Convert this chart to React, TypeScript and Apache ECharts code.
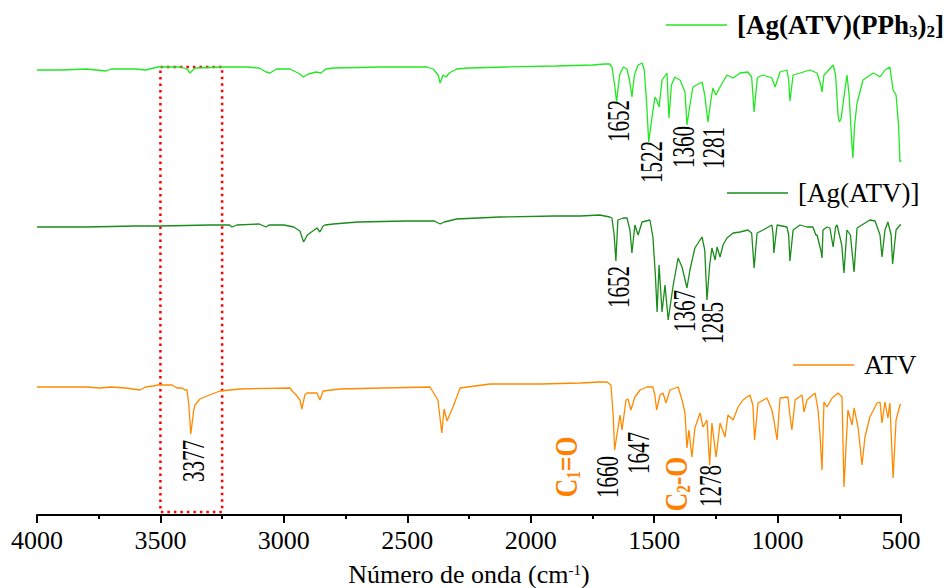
import React, { useEffect, useRef } from 'react';
import * as echarts from 'echarts';

// ---------- data (wavenumber cm-1, transmittance a.u.) ----------
const SERIES_NAMES = ['[Ag(ATV)(PPh3)2]', '[Ag(ATV)]', 'ATV'];

const agPPh3Spectrum: [number, number][] = [
  [4000, 445], [3900, 445], [3800, 446], [3720, 444], [3700, 446], [3600, 446], [3560, 445],
  [3510, 448], [3420, 448], [3392, 446], [3380, 442], [3360, 447], [3250, 448], [3150, 448],
  [3100, 447], [3072, 443], [3056, 442], [3030, 446], [2975, 446], [2935, 441], [2922, 438],
  [2900, 441], [2870, 443], [2850, 442], [2830, 446], [2800, 447], [2600, 448], [2420, 448],
  [2395, 446], [2375, 440], [2367, 432], [2355, 440], [2343, 438], [2330, 442], [2300, 446],
  [2250, 447], [2100, 448], [1900, 449], [1750, 450], [1700, 451], [1680, 451], [1671, 448],
  [1660, 430], [1652, 413], [1640, 440], [1625, 448], [1610, 446], [1600, 435], [1590, 418],
  [1580, 440], [1565, 450], [1549, 452], [1540, 445], [1530, 410], [1522, 373], [1510, 395],
  [1497, 418], [1490, 415], [1480, 408], [1468, 435], [1448, 442], [1440, 397], [1430, 430],
  [1416, 438], [1395, 435], [1375, 423], [1367, 390], [1355, 410], [1343, 428], [1306, 433],
  [1295, 420], [1282, 393], [1270, 415], [1262, 427], [1250, 420], [1233, 428], [1205, 440],
  [1180, 437], [1152, 442], [1120, 443], [1105, 438], [1095, 403], [1083, 435], [1079, 438],
  [1059, 440], [1023, 437], [1010, 428], [990, 443], [962, 445], [955, 435], [950, 414],
  [937, 440], [909, 442], [869, 445], [840, 442], [825, 430], [820, 423], [812, 440],
  [800, 443], [775, 450], [765, 440], [755, 400], [750, 393], [743, 396], [730, 420],
  [719, 440], [710, 420], [700, 375], [695, 357], [688, 390], [678, 412], [654, 435],
  [613, 442], [597, 440], [585, 438], [565, 445], [545, 448], [532, 425], [520, 420],
  [510, 390], [504, 353], [500, 355],
];

const agSpectrum: [number, number][] = [
  [4000, 288], [3800, 288], [3600, 289], [3500, 289], [3300, 290], [3220, 290], [3210, 288],
  [3190, 290], [3100, 291], [3072, 288], [3060, 290], [3000, 290], [2960, 288], [2935, 284],
  [2920, 273], [2905, 280], [2866, 287], [2854, 283], [2841, 289], [2833, 290], [2800, 291],
  [2700, 293], [2500, 294], [2390, 294], [2367, 291], [2350, 293], [2300, 296], [2124, 298],
  [1900, 299], [1800, 299], [1720, 300], [1680, 298], [1671, 297], [1662, 280], [1655, 254],
  [1647, 295], [1625, 297], [1610, 297], [1598, 285], [1590, 262], [1578, 290], [1565, 280],
  [1549, 293], [1517, 295], [1505, 278], [1495, 240], [1488, 203], [1480, 250], [1468, 203],
  [1456, 230], [1443, 195], [1424, 228], [1403, 257], [1387, 248], [1367, 227], [1355, 245],
  [1335, 267], [1306, 278], [1295, 265], [1286, 215], [1275, 250], [1266, 267], [1253, 255],
  [1245, 268], [1233, 258], [1221, 270], [1205, 277], [1180, 282], [1152, 283], [1120, 285],
  [1105, 282], [1095, 247], [1083, 282], [1059, 285], [1023, 290], [1018, 280], [1015, 262],
  [1002, 290], [962, 288], [955, 280], [950, 254], [937, 285], [909, 290], [881, 288],
  [857, 288], [845, 280], [840, 280], [825, 265], [820, 257], [816, 285], [800, 288],
  [788, 287], [775, 268], [765, 288], [759, 290], [740, 270], [731, 242], [719, 285],
  [705, 280], [690, 243], [678, 287], [626, 295], [605, 294], [585, 280], [577, 258],
  [565, 285], [553, 293], [540, 280], [534, 251], [520, 285], [504, 290], [500, 290],
];

const atvSpectrum: [number, number][] = [
  [4000, 128], [3900, 128], [3800, 128], [3745, 127], [3700, 128], [3640, 127], [3583, 125],
  [3560, 128], [3530, 129], [3510, 130], [3453, 130], [3433, 127], [3413, 127], [3400, 125],
  [3392, 125], [3385, 110], [3377, 81], [3365, 105], [3360, 110], [3340, 116], [3311, 119],
  [3259, 124], [3178, 126], [2975, 127], [2963, 123], [2950, 120], [2935, 115], [2927, 106],
  [2915, 120], [2906, 122], [2866, 122], [2854, 115], [2841, 124], [2773, 126], [2600, 127],
  [2408, 128], [2376, 115], [2360, 82], [2351, 106], [2339, 94], [2315, 108], [2286, 127],
  [2165, 131], [1962, 131], [1800, 132], [1719, 133], [1691, 133], [1675, 130], [1666, 100],
  [1660, 65], [1651, 80], [1638, 100], [1630, 85], [1614, 115], [1606, 116], [1594, 105],
  [1578, 118], [1557, 125], [1529, 128], [1505, 128], [1497, 120], [1490, 105], [1476, 120],
  [1464, 122], [1452, 112], [1436, 125], [1403, 128], [1387, 115], [1375, 102], [1367, 67],
  [1359, 85], [1347, 58], [1335, 87], [1314, 102], [1302, 88], [1286, 95], [1275, 50],
  [1266, 92], [1249, 58], [1233, 92], [1213, 78], [1201, 100], [1180, 95], [1160, 108],
  [1140, 115], [1112, 120], [1100, 110], [1093, 75], [1079, 112], [1043, 117], [1023, 105],
  [1015, 95], [1002, 75], [990, 117], [958, 118], [950, 100], [942, 85], [929, 115],
  [901, 120], [893, 103], [881, 115], [848, 122], [836, 105], [828, 80], [820, 45],
  [812, 113], [800, 108], [779, 117], [755, 122], [739, 118], [731, 28], [715, 105],
  [698, 90], [690, 107], [674, 88], [658, 50], [646, 78], [626, 98], [597, 112],
  [585, 113], [577, 92], [565, 113], [553, 97], [545, 112], [532, 37], [520, 95],
  [504, 110], [500, 111],
];

// dotted highlight box around the N-H region (wavenumber, a.u.)
const highlightBox: [number, number][] = [[3500, 448], [3250, 448], [3250, 3], [3500, 3], [3500, 448]];

// peak annotations: text, anchor wavenumber, anchor value, kind
const peakLabels: { text: string; w: number; v: number; kind: 'num' | 'group' }[] = [
  { text: '1652', w: 1643, v: 394, kind: 'num' },
  { text: '1522', w: 1509, v: 353, kind: 'num' },
  { text: '1360', w: 1383, v: 368, kind: 'num' },
  { text: '1281', w: 1258, v: 367, kind: 'num' },
  { text: '1652', w: 1643, v: 228, kind: 'num' },
  { text: '1367', w: 1379, v: 204, kind: 'num' },
  { text: '1285', w: 1262, v: 192, kind: 'num' },
  { text: '3377', w: 3368, v: 54, kind: 'num' },
  { text: '{m|C}{s|1}{m|=O}', w: 1857, v: 48, kind: 'group' },
  { text: '1660', w: 1691, v: 38, kind: 'num' },
  { text: '1647', w: 1565, v: 62, kind: 'num' },
  { text: '{m|C}{s|2}{m|-O}', w: 1411, v: 31, kind: 'group' },
  { text: '1278', w: 1270, v: 29, kind: 'num' },
];

const X_MIN = 500;
const X_MAX = 4000;
const X_STEP = 500;

// ---------- styles ----------
const SERIF = 'Liberation Serif';
const COLORS = ['#22e822', '#1a8c1a', '#ff8a00'];
const GROUP_COLOR = '#ff7f00';

export default function App() {
  const ref = useRef<HTMLDivElement>(null);

  useEffect(() => {
    if (!ref.current) return;
    const chart = echarts.init(ref.current, null, { renderer: 'svg' });

    const legendBase = {
      orient: 'horizontal',
      padding: 0,
      itemWidth: 61,
      itemHeight: 1.4,
      icon: 'rect',
      selectedMode: false,
      textStyle: {
        fontFamily: SERIF,
        fontSize: 27,
        color: '#000',
        lineHeight: 30,
        padding: [0, 0, 0, 5],
        rich: {
          s: { fontFamily: SERIF, fontSize: 17, lineHeight: 10, verticalAlign: 'bottom', color: '#000' },
        },
      },
    };

    const option: any = {
      animation: false,
      textStyle: { fontFamily: SERIF },
      grid: { left: 37, right: 51, top: 0, bottom: 73, containLabel: false, outerBoundsMode: 'none' },
      xAxis: {
        type: 'value',
        min: X_MIN,
        max: X_MAX,
        interval: X_STEP,
        inverse: true,
        name: 'Número de onda (cm{sup|-1})',
        nameLocation: 'middle',
        nameGap: 47,
        nameTextStyle: {
          fontFamily: SERIF,
          fontSize: 26,
          color: '#000',
          lineHeight: 24,
          rich: {
            sup: { fontFamily: SERIF, fontSize: 15, lineHeight: 16, verticalAlign: 'top', color: '#000' },
          },
        },
        axisLine: { show: true, lineStyle: { color: '#000', width: 2 } },
        axisTick: { show: true, length: 8, lineStyle: { color: '#000', width: 2 } },
        minorTick: { show: true, splitNumber: 2, length: 4, lineStyle: { color: '#000', width: 2 } },
        splitLine: { show: false },
        minorSplitLine: { show: false },
        axisLabel: {
          fontFamily: SERIF, fontSize: 26, color: '#000', margin: 12,
          formatter: (v: number) => String(v),
        },
      },
      yAxis: { type: 'value', min: 0, max: 515, show: false },
      legend: [
        {
          ...legendBase,
          data: [SERIES_NAMES[0]],
          left: 666,
          top: 10,
          formatter: () => '[Ag(ATV)(PPh{s|3}){s|2}]',
          textStyle: {
            ...legendBase.textStyle,
            fontWeight: 'bold',
            rich: {
              s: { fontFamily: SERIF, fontSize: 17, fontWeight: 'bold', lineHeight: 10, verticalAlign: 'bottom', color: '#000' },
            },
          },
        },
        { ...legendBase, data: [SERIES_NAMES[1]], left: 727, top: 178 },
        { ...legendBase, data: [SERIES_NAMES[2]], left: 793, top: 350 },
      ],
      series: [
        {
          name: SERIES_NAMES[0], type: 'line', data: agPPh3Spectrum, symbol: 'none', silent: true,
          lineStyle: { color: COLORS[0], width: 1.3 }, itemStyle: { color: COLORS[0] },
        },
        {
          name: SERIES_NAMES[1], type: 'line', data: agSpectrum, symbol: 'none', silent: true,
          lineStyle: { color: COLORS[1], width: 1.3 }, itemStyle: { color: COLORS[1] },
        },
        {
          name: SERIES_NAMES[2], type: 'line', data: atvSpectrum, symbol: 'none', silent: true,
          lineStyle: { color: COLORS[2], width: 1.3 }, itemStyle: { color: COLORS[2] },
        },
        {
          name: 'box', type: 'line', data: highlightBox, symbol: 'none', silent: true,
          lineStyle: { color: '#ff0000', width: 2.5, type: [2.5, 4] }, z: 1,
        },
      ],
    };

    chart.setOption(option);

    const graphics = peakLabels.map((p) => {
      const [x, y] = chart.convertToPixel({ gridIndex: 0 }, [p.w, p.v]) as number[];
      if (p.kind === 'num') {
        return {
          type: 'text',
          x, y,
          rotation: Math.PI / 2,
          scaleX: 0.68,
          silent: true,
          style: {
            text: p.text,
            fontFamily: SERIF,
            fontSize: 31,
            fill: '#000',
            align: 'center',
            verticalAlign: 'middle',
          },
        };
      }
      return {
        type: 'text',
        x, y,
        rotation: Math.PI / 2,
        scaleX: 0.8,
        silent: true,
        style: {
          text: p.text,
          fontFamily: SERIF,
          fontSize: 32,
          fontWeight: 'bold',
          fill: GROUP_COLOR,
          align: 'center',
          verticalAlign: 'middle',
          rich: {
            m: { fontFamily: SERIF, fontSize: 32, fontWeight: 'bold', fill: GROUP_COLOR, lineHeight: 34 },
            s: { fontFamily: SERIF, fontSize: 19, fontWeight: 'bold', fill: GROUP_COLOR, lineHeight: 12, verticalAlign: 'bottom' },
          },
        },
      };
    });

    chart.setOption({ graphic: graphics });

    return () => chart.dispose();
  }, []);

  return (
    <div
      ref={ref}
      style={{ position: 'fixed', left: 0, top: 0, width: 952, height: 588, background: '#fff' }}
    />
  );
}
